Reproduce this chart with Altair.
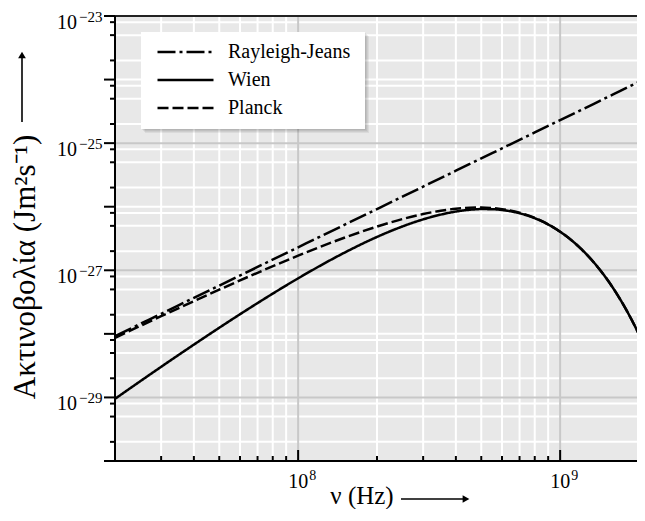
import altair as alt
import pandas as pd

FONT = "Liberation Serif"
GRAY = "#c8c8c8"

# frequencies (Hz) and spectral radiance values
freq = [2e7, 3e7, 4e7, 5e7, 7e7, 1e8, 1.5e8, 2e8, 2.5e8, 3e8, 3.5e8, 4e8, 4.5e8,
        5e8, 5.5e8, 6e8, 7e8, 8e8, 9e8, 1e9, 1.2e9, 1.4e9, 1.6e9, 1.8e9, 2e9, 2.1e9]
rayleigh_jeans = [9.2e-29, 2.07e-28, 3.68e-28, 5.75e-28, 1.127e-27, 2.3e-27, 5.175e-27,
                  9.2e-27, 1.4375e-26, 2.07e-26, 2.8175e-26, 3.68e-26, 4.6575e-26,
                  5.75e-26, 6.9575e-26, 8.28e-26, 1.127e-25, 1.472e-25, 1.863e-25,
                  2.3e-25, 3.312e-25, 4.508e-25, 5.888e-25, 7.452e-25, 9.2e-25, 1.0143e-24]
wien = [9.50e-30, 3.03e-29, 6.77e-29, 1.248e-28, 3.049e-28, 7.47e-28, 1.886e-27,
        3.346e-27, 4.890e-27, 6.322e-27, 7.51e-27, 8.39e-27, 8.938e-27, 9.175e-27,
        9.138e-27, 8.877e-27, 7.894e-27, 6.597e-27, 5.258e-27, 4.039e-27, 2.188e-27,
        1.089e-27, 5.098e-28, 2.274e-28, 9.786e-29, 6.34e-29]
planck = [8.68e-29, 1.896e-28, 3.27e-28, 4.957e-28, 9.137e-28, 1.697e-27, 3.246e-27,
          4.873e-27, 6.388e-27, 7.669e-27, 8.648e-27, 9.304e-27, 9.647e-27, 9.709e-27,
          9.529e-27, 9.159e-27, 8.032e-27, 6.661e-27, 5.287e-27, 4.051e-27, 2.190e-27,
          1.089e-27, 5.098e-28, 2.274e-28, 9.786e-29, 6.34e-29]

series_names = ["Rayleigh-Jeans", "Wien", "Planck"]
dash_patterns = [[18, 4, 3, 4], [1, 0], [11, 4]]

# x ticks / grid
x_minor_ticks = [3e7, 4e7, 5e7, 6e7, 7e7, 8e7, 9e7, 2e8, 3e8, 4e8, 5e8, 6e8, 7e8, 8e8, 9e8]
x_major_ticks = [1e8, 1e9]
x_label_exponents = ["8", "9"]
# y ticks / grid
y_decades = [1e-30, 1e-29, 1e-28, 1e-27, 1e-26, 1e-25, 1e-24, 1e-23]
y_minor_ticks = [2e-30, 5e-30, 8e-30, 2e-29, 5e-29, 8e-29, 2e-28, 5e-28, 8e-28,
                 2e-27, 5e-27, 8e-27, 2e-26, 5e-26, 8e-26, 2e-25, 5e-25, 8e-25,
                 2e-24, 5e-24, 8e-24]
y_label_values = [1e-23, 1e-25, 1e-27, 1e-29]
y_label_exponents = ["−23", "−25", "−27", "−29"]
y_white_grid = [1e-30, 1e-28, 1e-26, 1e-24] + y_minor_ticks

y_title = "Ακτινοβολία (Jm²s⁻¹)"
x_title = "ν (Hz)"

rows = []
for name, vals in zip(series_names, [rayleigh_jeans, wien, planck]):
    for f, v in zip(freq, vals):
        rows.append({"nu": f, "B": v, "series": name})
df = pd.DataFrame(rows)

W, H = 522, 445
xscale = alt.Scale(type="log", domain=[2e7, 1.965e9], nice=False)
yscale = alt.Scale(type="log", domain=[1e-30, 1e-23], nice=False)

one = pd.DataFrame({"a": [0]})


def vdf(vals, **extra):
    d = {"v": vals}
    d.update(extra)
    return pd.DataFrame(d)


def xv(field="v"):
    return alt.X(f"{field}:Q", scale=xscale, axis=None)


def yv(field="v"):
    return alt.Y(f"{field}:Q", scale=yscale, axis=None)


# grid lines
grid_x_white = alt.Chart(vdf(x_minor_ticks)).mark_rule(color="white", strokeWidth=2).encode(
    x=xv(), y=alt.value(0), y2=alt.value(H))
grid_y_white = alt.Chart(vdf(y_white_grid)).mark_rule(color="white", strokeWidth=2).encode(
    y=yv(), x=alt.value(0), x2=alt.value(W))
grid_x_gray = alt.Chart(vdf(x_major_ticks)).mark_rule(color=GRAY, strokeWidth=2).encode(
    x=xv(), y=alt.value(0), y2=alt.value(H))
grid_y_gray = alt.Chart(vdf(y_label_values)).mark_rule(color=GRAY, strokeWidth=2).encode(
    y=yv(), x=alt.value(0), x2=alt.value(W))

# legend box (white) with soft shadow
shadows = [
    alt.Chart(one).mark_rect(color="black", opacity=0.06).encode(
        x=alt.value(26 + d), x2=alt.value(250 + d), y=alt.value(16 + d), y2=alt.value(113 + d))
    for d in (1, 2, 3, 4)
]
legend_box = alt.Chart(one).mark_rect(color="white").encode(
    x=alt.value(26), x2=alt.value(250), y=alt.value(16), y2=alt.value(113))

lines = alt.Chart(df).mark_line(strokeWidth=2.5, color="black", interpolate="monotone", clip=True).encode(
    x=xv("nu"),
    y=yv("B"),
    strokeDash=alt.StrokeDash(
        "series:N", sort=series_names,
        scale=alt.Scale(domain=series_names, range=dash_patterns),
        legend=alt.Legend(
            title=None, orient="none", legendX=41, legendY=25, padding=0,
            direction="vertical",
            symbolType="stroke", symbolSize=3136, symbolStrokeWidth=2.5,
            symbolStrokeColor="black", clipHeight=22, rowPadding=6,
            labelFont=FONT, labelFontSize=20, labelColor="black", labelOffset=13,
        ),
    ),
)

# frame: top border, left and bottom axis lines
top_border = alt.Chart(one).mark_rule(color="#222222", strokeWidth=2).encode(
    x=alt.value(0), x2=alt.value(W), y=alt.value(0))
left_axis = alt.Chart(one).mark_rule(color="black", strokeWidth=2).encode(
    x=alt.value(0), y=alt.value(0), y2=alt.value(H))
bottom_axis = alt.Chart(one).mark_rule(color="black", strokeWidth=2).encode(
    x=alt.value(0), x2=alt.value(W), y=alt.value(H))

# ticks (x: pointing inward, y: pointing outward)
xt_minor = alt.Chart(vdf(x_minor_ticks)).mark_rule(color="black", strokeWidth=2).encode(
    x=xv(), y=alt.value(H), y2=alt.value(H - 5))
xt_major = alt.Chart(vdf(x_major_ticks)).mark_rule(color="black", strokeWidth=2).encode(
    x=xv(), y=alt.value(H), y2=alt.value(H - 11))
yt_minor = alt.Chart(vdf(y_minor_ticks)).mark_rule(color="black", strokeWidth=2).encode(
    y=yv(), x=alt.value(0), x2=alt.value(-5))
yt_major = alt.Chart(vdf(y_decades)).mark_rule(color="black", strokeWidth=2).encode(
    y=yv(), x=alt.value(0), x2=alt.value(-11))

# tick labels: base "10" plus raised exponent
xlab_df = vdf(x_major_ticks, e=x_label_exponents)
xlab_base = alt.Chart(xlab_df).mark_text(text="10", font=FONT, fontSize=20, align="right",
                                         baseline="alphabetic", dx=10, color="black").encode(
    x=xv(), y=alt.value(H + 27))
xlab_exp = alt.Chart(xlab_df).mark_text(font=FONT, fontSize=14, align="left",
                                        baseline="alphabetic", dx=11, color="black").encode(
    x=xv(), y=alt.value(H + 19), text="e:N")

ylab_df = vdf(y_label_values, e=y_label_exponents)
ylab_base = alt.Chart(ylab_df).mark_text(text="10", font=FONT, fontSize=20, align="right",
                                         baseline="alphabetic", dy=13, color="black").encode(
    y=yv(), x=alt.value(-38))
ylab_exp = alt.Chart(ylab_df).mark_text(font=FONT, fontSize=15, align="left",
                                        baseline="alphabetic", dy=6, color="black").encode(
    y=yv(), x=alt.value(-36), text="e:N")

# axis titles with arrows
ytitle = alt.Chart(one).mark_text(text=y_title, font=FONT, fontSize=31, angle=270,
                                  align="center", baseline="middle", color="black").encode(
    x=alt.value(-89), y=alt.value(251))
yarrow = alt.Chart(one).mark_rule(color="black", strokeWidth=1.6).encode(
    x=alt.value(-93), y=alt.value(106), y2=alt.value(38))
yhead = alt.Chart(one).mark_point(shape="triangle-up", filled=True, color="black", size=60, opacity=1).encode(
    x=alt.value(-93), y=alt.value(39))

xtitle = alt.Chart(one).mark_text(text=x_title, font=FONT, fontSize=25,
                                  align="center", baseline="alphabetic", color="black").encode(
    x=alt.value(247), y=alt.value(488))
xarrow = alt.Chart(one).mark_rule(color="black", strokeWidth=1.6).encode(
    x=alt.value(286), x2=alt.value(352), y=alt.value(483))
xhead = alt.Chart(one).mark_point(shape="triangle-right", filled=True, color="black", size=60, opacity=1).encode(
    x=alt.value(351), y=alt.value(483))

chart = alt.layer(
    grid_x_white, grid_y_white, grid_x_gray, grid_y_gray,
    *shadows, legend_box, lines,
    top_border, left_axis, bottom_axis,
    xt_minor, xt_major, yt_minor, yt_major,
    xlab_base, xlab_exp, ylab_base, ylab_exp,
    ytitle, yarrow, yhead, xtitle, xarrow, xhead,
).properties(
    width=W, height=H,
    padding={"left": 107, "top": 8, "right": 0, "bottom": 48},
    autosize=alt.AutoSizeParams(type="none"),
    background="white",
).configure_view(fill="#e8e8e8", stroke=None)

chart.save("out.html", embed_options={"renderer": "svg", "actions": False})
